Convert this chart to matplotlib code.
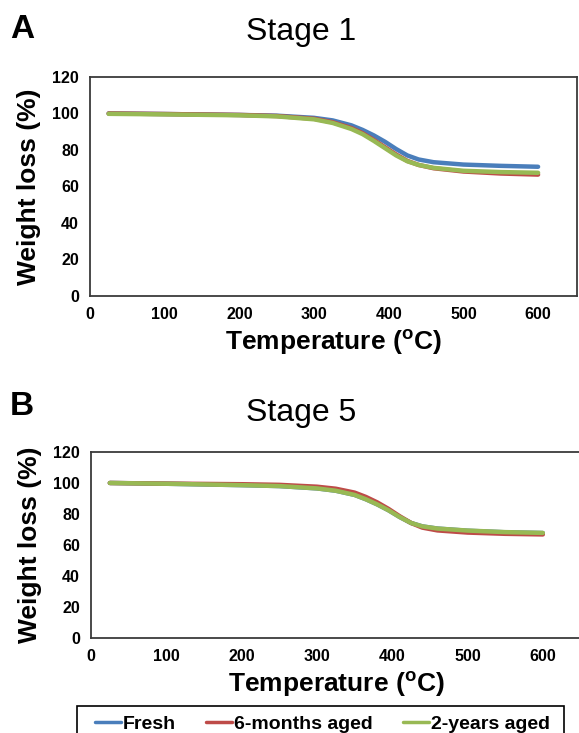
import numpy as np
import matplotlib
matplotlib.use("Agg")
import matplotlib.pyplot as plt
from matplotlib.patches import Rectangle

plt.rcParams["font.family"] = ["Liberation Sans", "DejaVu Sans"]
plt.rcParams["mathtext.fontset"] = "custom"
plt.rcParams["mathtext.rm"] = "Liberation Sans:bold"
plt.rcParams["mathtext.bf"] = "Liberation Sans:bold"

# Temperature points (deg C)
temp = [25, 100, 200, 250, 300, 325, 350, 365, 380, 395, 410, 425, 440, 460, 500, 550, 600]

# Stage 1 weight (%)
s1_fresh = [100, 99.7, 99.2, 98.8, 97.6, 96.2, 93.5, 91, 88, 84.5, 80.5, 77, 74.8, 73.3, 72.0, 71.3, 70.8]
s1_6m = [100, 99.7, 99.2, 98.6, 97.1, 95.2, 92, 89.2, 85.5, 81.5, 77.5, 74, 71.8, 70, 68.2, 67.1, 66.5]
s1_2y = [99.8, 99.5, 99.0, 98.4, 96.8, 94.8, 91.5, 88.7, 85, 81, 77, 73.8, 71.8, 70.2, 68.6, 67.9, 67.5]

# Stage 5 weight (%)  (fresh lies under the 2-years curve)
s5_fresh = [100, 99.5, 98.6, 98.0, 96.5, 95.0, 92.3, 89.5, 86.2, 82.4, 78, 74.2, 72.0, 70.6, 69.2, 68.2, 67.7]
s5_6m = [100, 99.6, 99.2, 98.8, 97.6, 96.3, 93.8, 91, 87.5, 83.3, 78.5, 74.2, 71.2, 69.4, 68.0, 67.2, 66.8]
s5_2y = [100, 99.5, 98.6, 98.0, 96.5, 95.0, 92.3, 89.5, 86.2, 82.4, 78, 74.2, 72.0, 70.6, 69.3, 68.3, 67.8]

labels = ["Fresh", "6-months aged", "2-years aged"]
colors = ["#4A7EBB", "#BE4B48", "#98B954"]

fig = plt.figure(figsize=(5.79, 7.33), dpi=100)

panels = [
    ("A", "Stage 1", [s1_fresh, s1_6m, s1_2y], [0.1554, 0.5962, 0.841, 0.2988], 0.960, 0.956),
    ("B", "Stage 5", [s5_fresh, s5_6m, s5_2y], [0.1572, 0.1296, 0.848, 0.2538], 0.446, 0.437),
]

handles = None
for letter, title, series, rect, ly, ty in panels:
    ax = fig.add_axes(rect)
    lines = []
    for vals, lab, col in zip(series, labels, colors):
        ln, = ax.plot(temp, vals, color=col, lw=3.2, label=lab, solid_capstyle="round")
        lines.append(ln)
    if handles is None:
        handles = lines
    ax.set_xlim(0, 652)
    ax.set_ylim(0, 120)
    ax.set_xticks([0, 100, 200, 300, 400, 500, 600])
    ax.set_yticks([0, 20, 40, 60, 80, 100, 120])
    ax.tick_params(length=0, labelsize=11.5, pad=8)
    for t in ax.get_xticklabels() + ax.get_yticklabels():
        t.set_fontweight("bold")
    for sp in ax.spines.values():
        sp.set_color("#3a3a3a")
        sp.set_linewidth(1.3)
    ax.set_xlabel(r"Temperature ($^\mathregular{o}$C)", fontsize=19, fontweight="bold", labelpad=4)
    ax.set_ylabel("Weight loss (%)", fontsize=19, fontweight="bold")
    ax.yaxis.set_label_coords(-0.10, 0.5)
    fig.text(0.017, ly, letter, fontsize=24, fontweight="bold", va="center", ha="left")
    fig.text(0.52, ty, title, fontsize=23, va="center", ha="center")

# legend frame (runs off the bottom edge, as in the source figure)
fig.patches.append(Rectangle((0.133, -0.02), 0.841, 0.0568, transform=fig.transFigure,
                             facecolor="none", edgecolor="black", linewidth=1.2))

leg = fig.legend(handles, labels, loc="upper center",
                 bbox_to_anchor=(0.557, 0.031), borderaxespad=0,
                 ncol=3, prop={"weight": "bold", "size": 14},
                 frameon=False, handlelength=1.35, handletextpad=0.1,
                 columnspacing=1.55, borderpad=0.25)
for ln in leg.get_lines():
    ln.set_linewidth(2.5)

fig.savefig("out.png", dpi=100)
